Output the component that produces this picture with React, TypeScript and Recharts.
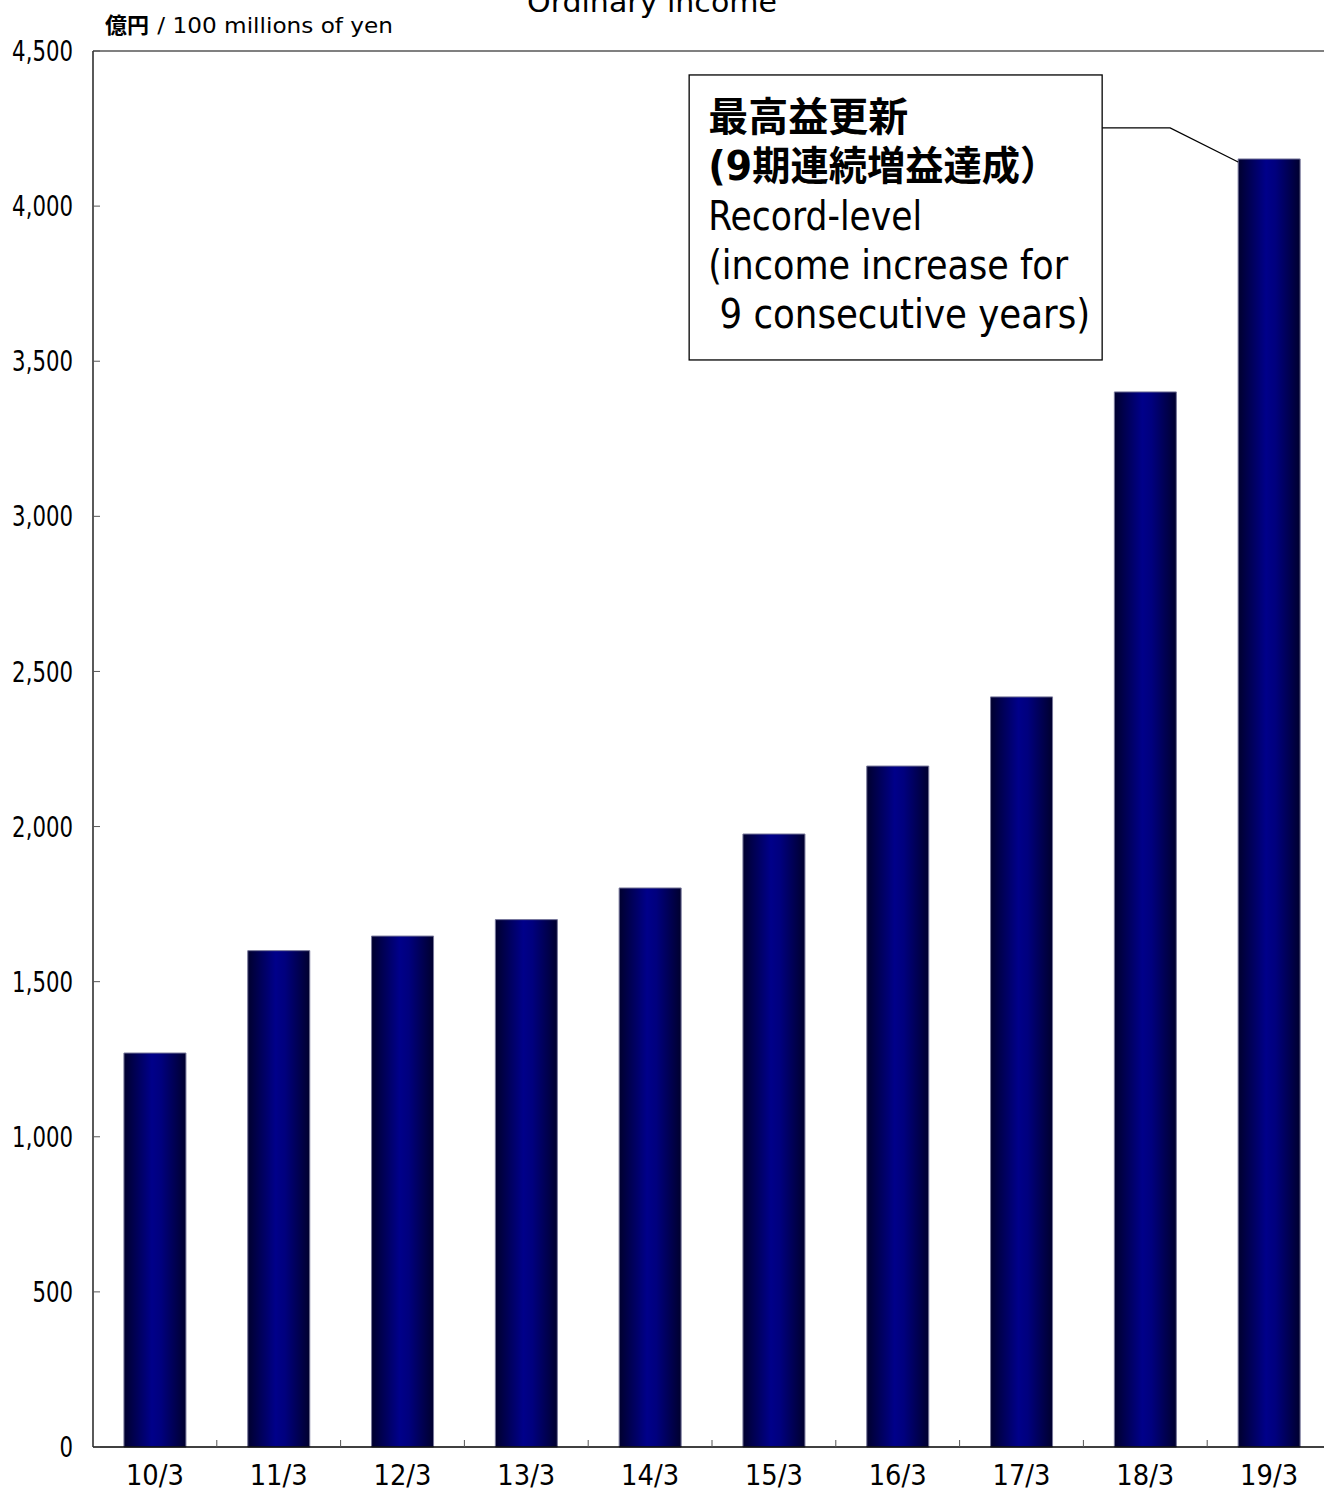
import React from 'react';
import { BarChart, Bar, XAxis, YAxis, ReferenceLine, LabelList } from 'recharts';

const periods = ['10/3', '11/3', '12/3', '13/3', '14/3', '15/3', '16/3', '17/3', '18/3', '19/3'];
const ordinaryIncome = [1270, 1600, 1647, 1700, 1802, 1976, 2195, 2418, 3401, 4152];
const yTicks = [0, 500, 1000, 1500, 2000, 2500, 3000, 3500, 4000, 4500];
const chartTitle = 'Ordinary income';
const unitJa = '億円';
const unitEn = ' / 100 millions of yen';
const noteBold = ['最高益更新', '(9期連続増益達成）'];
const noteRegular = ['Record-level', '(income increase for', ' 9 consecutive years)'];
// widths the reference gives these lines
const noteBoldLen = [0, 350];
const noteRegularLen = [214, 360, 382];

const FONT = "'DejaVu Sans', 'Noto Sans CJK JP', sans-serif";

const W = 1340;
const H = 1492;
const M = { top: 51, right: 9, left: 0, bottom: 0 };
const Y_AXIS_W = 93;
const X_AXIS_H = 45;
const BAND = (W - M.right - Y_AXIS_W) / periods.length;

const data = periods.map((p, i) => ({ period: p, value: ordinaryIncome[i] }));

const fmt = (v: number) => v.toLocaleString('en-US');

function XTick(props: any) {
  const { x, y, payload, index } = props;
  const half = payload && payload.offset ? payload.offset : BAND / 2;
  return (
    <g>
      {index < periods.length - 1 && (
        <line x1={x + half} x2={x + half} y1={y} y2={y - 7} stroke="#555" strokeWidth={1} />
      )}
      <text
        x={x}
        y={y + 38}
        textAnchor="middle"
        fontFamily={FONT}
        fontSize={28}
        textLength={58}
        lengthAdjust="spacingAndGlyphs"
        fill="#000"
      >
        {payload.value}
      </text>
    </g>
  );
}

function YTick(props: any) {
  const { x, y, payload } = props;
  const axisX = x + 20;
  return (
    <g>
      <line x1={axisX} x2={axisX + 7} y1={y} y2={y} stroke="#555" strokeWidth={1} />
      <text
        transform={`translate(${x},${y}) scale(0.76,1)`}
        dy="0.36em"
        textAnchor="end"
        fontFamily={FONT}
        fontSize={28}
        fill="#000"
      >
        {fmt(payload.value)}
      </text>
    </g>
  );
}

// callout box anchored to the last bar
function Note(props: any) {
  const { x, y, index } = props;
  if (index !== periods.length - 1) return <g />;
  const bx = Number(x);
  const by = Number(y);
  const left = bx - 549;
  const right = bx - 136;
  const top = by - 84;
  const bottom = by + 201;
  const tx = left + 19;
  return (
    <g>
      <polyline
        points={`${bx},${by + 3} ${bx - 68},${by - 31} ${right},${by - 31}`}
        fill="none"
        stroke="#000"
        strokeWidth={1.3}
      />
      <rect x={left} y={top} width={right - left} height={bottom - top} fill="#fff" stroke="#000" strokeWidth={1.3} />
      {noteBold.map((t, i) => (
        <text
          key={t}
          x={tx}
          y={by - 28 + i * 49}
          fontFamily={FONT}
          fontSize={40}
          fontWeight="bold"
          fill="#000"
          {...(noteBoldLen[i] ? { textLength: noteBoldLen[i], lengthAdjust: 'spacingAndGlyphs' } : {})}
        >
          {t}
        </text>
      ))}
      {noteRegular.map((t, i) => (
        <text
          key={t}
          x={tx}
          y={by + 71 + i * 49}
          fontFamily={FONT}
          fontSize={41}
          textLength={noteRegularLen[i]}
          lengthAdjust="spacingAndGlyphs"
          fill="#000"
          style={{ whiteSpace: 'pre' }}
        >
          {t}
        </text>
      ))}
    </g>
  );
}

export default function App() {
  return (
    <div style={{ position: 'absolute', left: 0, top: 0, width: 1324, height: 1492, overflow: 'hidden', background: '#fff' }}>
      <BarChart width={W} height={H} data={data} margin={M} barCategoryGap="25%">
        <defs>
          <linearGradient id="barFill" x1="0" y1="0" x2="1" y2="0">
            <stop offset="0%" stopColor="#00002e" />
            <stop offset="45%" stopColor="#00008a" />
            <stop offset="60%" stopColor="#00007e" />
            <stop offset="100%" stopColor="#00002e" />
          </linearGradient>
        </defs>
        <XAxis
          dataKey="period"
          height={X_AXIS_H}
          tickSize={0}
          tickMargin={0}
          tickLine={false}
          axisLine={{ stroke: '#000', strokeWidth: 1.3 }}
          tick={<XTick />}
          interval={0}
        />
        <YAxis
          width={Y_AXIS_W}
          domain={[0, 4500]}
          ticks={yTicks}
          tickSize={0}
          tickMargin={20}
          tickLine={false}
          axisLine={{ stroke: '#000', strokeWidth: 1.3 }}
          tick={<YTick />}
          interval={0}
        />
        <ReferenceLine y={4500} stroke="#808080" strokeWidth={2} />
        <Bar dataKey="value" fill="url(#barFill)" stroke="#77779a" strokeWidth={1} isAnimationActive={false}>
          <LabelList dataKey="value" content={<Note />} />
        </Bar>
      </BarChart>
      <svg width={1324} height={60} style={{ position: 'absolute', left: 0, top: 0, pointerEvents: 'none' }}>
        <text
          x={652}
          y={12}
          textAnchor="middle"
          fontFamily={FONT}
          fontSize={28}
          textLength={250}
          lengthAdjust="spacingAndGlyphs"
          fill="#000"
        >
          {chartTitle}
        </text>
        <text x={105} y={33} fontFamily={FONT} fontSize={22} fontWeight="bold" fill="#000">
          {unitJa}
        </text>
        <text
          x={150}
          y={33}
          fontFamily={FONT}
          fontSize={22}
          textLength={243}
          lengthAdjust="spacingAndGlyphs"
          fill="#000"
          style={{ whiteSpace: 'pre' }}
        >
          {unitEn}
        </text>
      </svg>
    </div>
  );
}
